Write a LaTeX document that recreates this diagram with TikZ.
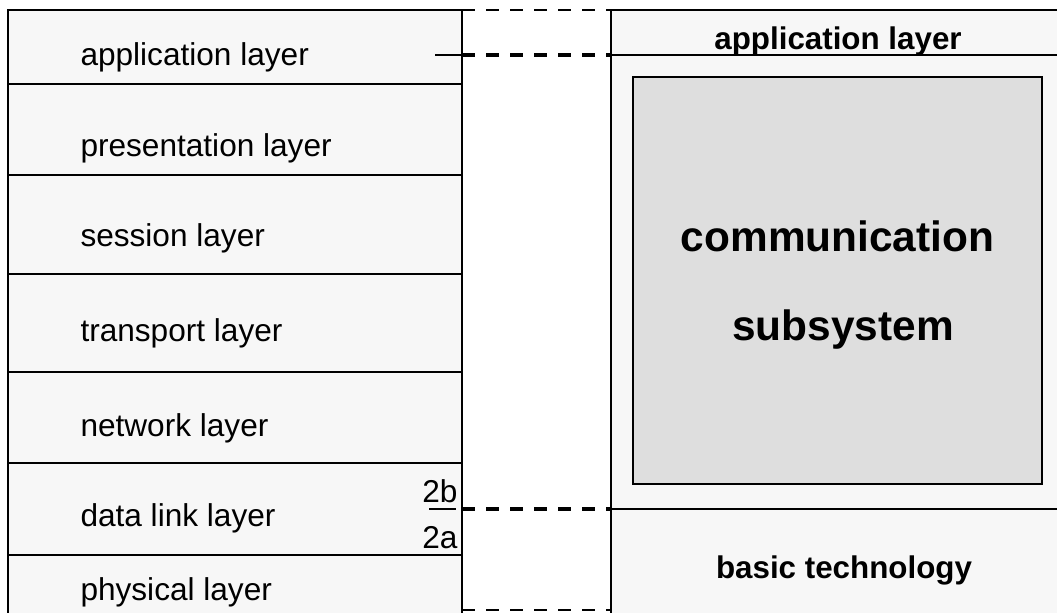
\documentclass[tikz,border=0pt]{standalone}
\usepackage{fontspec}
\setmainfont{Liberation Sans}
\definecolor{boxfill}{HTML}{F7F7F7}
\definecolor{subfill}{HTML}{DEDEDE}
\tikzset{every picture/.style={line width=0.75pt}}

\begin{document}
\begin{tikzpicture}[x=0.75pt,y=0.75pt,yscale=-1,xscale=1,
  layerbox/.style={draw, fill=boxfill, line width=1.8pt, minimum width=340.5pt, inner sep=0pt, outer sep=0pt},
  rightbox/.style={draw, fill=boxfill, line width=1.8pt, minimum width=344.25pt, inner sep=0pt, outer sep=0pt},
  lbl/.style={anchor=base west, inner sep=0pt, font=\fontsize{23.7}{28}\selectfont},
  boldlbl/.style={anchor=base, inner sep=0pt, font=\fontsize{23.5}{28}\selectfont\bfseries},
  biglbl/.style={anchor=base, inner sep=0pt, font=\fontsize{31.8}{38}\selectfont\bfseries},
  thindash/.style={line width=2pt, dash pattern=on 9.75pt off 8.25pt},
  thickdash/.style={line width=3pt, dash pattern=on 9.75pt off 8.25pt}]
\useasboundingbox (0,0) rectangle (1057,612);
\clip (0,0) rectangle (1057,612);

% OSI layers (left)
\node [layerbox, minimum height=55.5pt] (app) at (235,47) {};
\node [layerbox, minimum height=68.25pt] (pres) at (235,129.5) {};
\node [layerbox, minimum height=74.25pt] (sess) at (235,224.5) {};
\node [layerbox, minimum height=73.5pt] (trans) at (235,323) {};
\node [layerbox, minimum height=68.25pt] (net) at (235,417.5) {};
\node [layerbox, minimum height=69pt] (dll) at (235,509) {};
\node [layerbox, minimum height=63.75pt] (phys) at (235,597.5) {};

% Right stack
\node [rightbox, minimum height=33.75pt] (rapp) at (840.5,32.5) {};
\node [rightbox, minimum height=340.5pt] (rcomm) at (840.5,282) {};
\node [rightbox, minimum height=98.25pt] (rbasic) at (840.5,574.5) {};
%Shape: Rectangle
\node [draw, fill=subfill, line width=2pt, minimum width=306.75pt, minimum height=305.25pt, inner sep=0pt, outer sep=0pt] (sub) at (837.5,280.5) {};

% Gap between the stacks
\coordinate (botL) at (462,610);
\coordinate (botR) at (611,610);
\coordinate (tickA) at (435,55);
\coordinate (tickB) at (429,509);
\draw [thindash] (app.north east) -- (rapp.north west);
\draw [thickdash] (app.east |- rapp.south west) -- (rapp.south west);
\draw [thickdash] (dll.east |- rbasic.north west) -- (rbasic.north west);
\draw [thindash] (botL) -- (botR);
\draw [line width=2pt] (tickA) -- (tickA -| app.east) ;
\draw [line width=2pt] (tickB) -- ([xshift=-4.5pt]tickB -| dll.east) ;

% Text Node
\node [lbl] (tapp) at (80,65) {application layer};
\node [lbl] (tpres) at (80,156) {presentation layer};
\node [lbl] (tsess) at (80,246) {session layer};
\node [lbl] (ttrans) at (80,341) {transport layer};
\node [lbl] (tnet) at (80,436) {network layer};
\node [lbl] (tdll) at (80,526) {data link layer};
\node [lbl] (tphys) at (80,600) {physical layer};
\node [lbl, anchor=base east] (t2b) at (458,502) {2b};
\node [lbl, anchor=base east] (t2a) at (458,548) {2a};
\node [boldlbl] (trapp) at (838,49) {application layer};
\node [biglbl] (tcomm) at (837.5,251) {communication};
\node [biglbl] (tsubs) at (843,340) {subsystem};
\node [boldlbl] (tbasic) at (844,578) {basic technology};

\end{tikzpicture}
\end{document}
